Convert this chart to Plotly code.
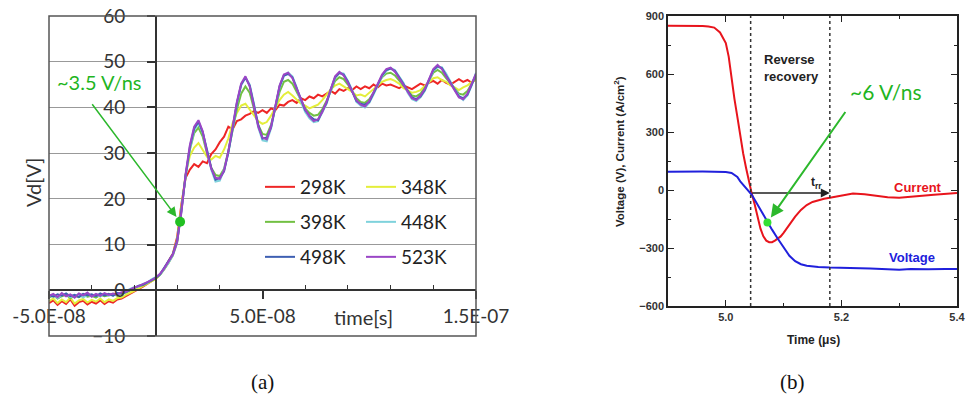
import plotly.graph_objects as go

# ---------------- Panel (a) data : Vd vs time (ns) ----------------
t_ns = [-50, -48, -46, -44, -42, -40, -38, -36, -34, -32,
        -30, -28, -26, -24, -22, -20, -18, -16, -14, -12,
        -10, -8, -6, -4, -2, 0, 2, 4, 6, 8,
        10, 12, 14, 16, 18, 20, 22, 24, 26, 28,
        30, 32, 34, 36, 38, 40, 42, 44, 46, 48,
        50, 52, 54, 56, 58, 60, 62, 64, 66, 68,
        70, 72, 74, 76, 78, 80, 82, 84, 86, 88,
        90, 92, 94, 96, 98, 100, 102, 104, 106, 108,
        110, 112, 114, 116, 118, 120, 122, 124, 126, 128,
        130, 132, 134, 136, 138, 140, 142, 144, 146, 148,
        150]

vd_298K = [-2.8, -2.2, -3.2, -2.4, -3.0, -2.0, -3.4, -2.6, -2.3, -3.1,
           -2.5, -2.9, -2.2, -3.0, -2.4, -2.7, -2.0, -1.8, -1.3, -0.8,
           -0.3, 0.3, 0.8, 1.4, 2.0, 2.6, 3.5, 4.8, 6.4, 8.0,
           11.6, 18.8, 24.6, 26.4, 27.6, 27.0, 28.2, 27.8, 29.8, 30.8,
           32.4, 33.6, 35.8, 35.2, 37.0, 37.4, 38.2, 38.6, 39.2, 38.8,
           39.4, 38.8, 39.8, 39.4, 40.6, 40.4, 41.2, 41.6, 41.0, 42.0,
           41.6, 42.4, 42.0, 42.8, 42.4, 43.0, 43.6, 43.0, 44.0, 43.6,
           44.2, 43.8, 44.6, 44.0, 44.6, 44.2, 45.0, 44.4, 45.2, 44.8,
           45.0, 44.6, 44.2, 44.8, 44.4, 44.0, 44.6, 45.2, 44.8, 45.4,
           45.8, 45.2, 46.0, 45.4, 45.0, 45.6, 46.2, 45.6, 46.0, 45.4,
           46.2]

vd_348K = [-2.4, -1.8, -2.8, -2.0, -2.6, -1.6, -2.9, -2.2, -1.9, -2.7,
           -2.1, -2.5, -1.8, -2.6, -2.0, -2.3, -1.7, -1.6, -1.0, -0.6,
           -0.1, 0.4, 0.9, 1.4, 2.0, 2.5, 3.4, 4.6, 6.0, 7.8,
           11.0, 18.2, 25.4, 29.4, 31.2, 32.2, 30.6, 29.2, 28.6, 29.4,
           29.0, 30.8, 33.2, 36.6, 38.8, 40.4, 40.8, 39.6, 38.2, 37.0,
           36.4, 36.8, 38.2, 39.8, 41.6, 42.8, 43.4, 42.6, 41.6, 40.8,
           40.4, 39.8, 40.2, 40.6, 41.6, 42.8, 44.0, 44.8, 45.2, 44.6,
           44.0, 43.4, 42.6, 42.8, 42.4, 43.2, 44.0, 45.0, 45.6, 46.0,
           46.2, 45.8, 45.2, 44.2, 43.8, 43.2, 43.4, 43.8, 44.6, 45.4,
           46.4, 46.6, 46.0, 45.6, 44.8, 44.4, 43.8, 44.4, 44.8, 45.6,
           46.0]

vd_398K = [-1.6, -1.1, -1.8, -1.3, -1.0, -1.7, -1.2, -1.5, -0.9, -1.4,
           -1.2, -1.6, -1.0, -1.3, -1.1, -0.8, -1.2, -0.7, -0.5, 0.0,
           0.4, 0.9, 1.1, 1.6, 2.1, 2.6, 3.4, 4.6, 6.1, 7.6,
           10.4, 17.6, 25.0, 30.8, 34.4, 35.6, 33.6, 30.0, 26.8, 25.2,
           25.0, 26.6, 30.4, 35.0, 39.6, 43.0, 44.6, 43.2, 39.8, 36.2,
           34.2, 34.0, 36.2, 40.0, 43.4, 45.6, 46.0, 45.2, 43.4, 41.4,
           39.8, 38.8, 38.2, 38.4, 39.6, 41.4, 43.8, 45.8, 46.6, 46.2,
           45.0, 43.4, 42.0, 41.2, 41.0, 41.8, 43.2, 45.0, 46.6, 47.4,
           47.6, 47.0, 46.0, 44.8, 43.6, 42.6, 42.4, 43.0, 44.2, 46.0,
           47.6, 48.2, 47.6, 46.4, 45.2, 44.0, 43.0, 42.8, 43.6, 45.2,
           46.8]

vd_448K = [-1.4, -1.0, -1.7, -1.1, -0.8, -1.5, -1.2, -0.9, -1.6, -1.0,
           -1.3, -0.9, -1.4, -0.8, -1.2, -0.9, -1.0, -0.6, -0.2, 0.3,
           0.7, 0.8, 1.4, 1.6, 2.4, 2.9, 3.4, 4.7, 6.0, 7.7,
           10.6, 17.2, 25.0, 31.0, 35.0, 36.6, 34.4, 30.6, 26.4, 23.8,
           24.0, 26.4, 30.0, 35.2, 40.8, 44.8, 46.6, 45.0, 40.8, 35.6,
           32.8, 32.6, 35.4, 40.0, 44.4, 46.8, 47.6, 46.8, 44.4, 41.2,
           39.0, 37.6, 36.8, 37.0, 38.8, 40.8, 43.8, 46.4, 47.6, 47.4,
           45.8, 43.8, 41.2, 40.4, 40.0, 41.0, 42.8, 45.0, 46.8, 48.0,
           48.6, 48.2, 46.8, 45.4, 43.2, 41.8, 41.4, 42.2, 43.6, 45.8,
           48.0, 48.8, 48.8, 47.4, 45.6, 44.0, 42.6, 41.6, 42.6, 44.8,
           47.6]

vd_498K = [-1.0, -1.4, -0.9, -1.2, -0.7, -1.3, -1.0, -1.5, -0.8, -1.1,
           -0.9, -1.3, -0.7, -1.1, -0.8, -1.2, -0.6, -0.7, -0.4, 0.1,
           0.5, 1.0, 1.2, 1.7, 2.3, 2.7, 3.5, 4.9, 6.3, 7.9,
           10.8, 17.4, 25.2, 31.4, 35.4, 36.9, 34.6, 30.4, 26.8, 24.2,
           24.6, 26.0, 30.2, 35.4, 41.0, 45.0, 46.5, 44.8, 40.4, 36.2,
           33.2, 33.4, 35.6, 40.2, 44.6, 47.0, 47.3, 46.6, 44.0, 41.8,
           39.4, 38.2, 37.4, 37.2, 39.2, 41.0, 44.0, 46.6, 47.5, 47.2,
           45.6, 43.6, 41.4, 40.8, 40.6, 41.2, 43.0, 45.0, 47.0, 48.2,
           48.5, 48.0, 46.6, 45.2, 43.6, 42.2, 41.8, 42.4, 43.8, 46.0,
           48.2, 49.0, 48.6, 47.0, 45.4, 43.8, 42.4, 42.0, 42.8, 45.0,
           47.2]

vd_523K = [-1.2, -0.8, -1.5, -0.6, -1.3, -0.9, -1.6, -0.7, -1.1, -0.5,
           -1.4, -0.8, -1.2, -0.6, -1.0, -0.7, -0.9, -0.4, -0.3, 0.2,
           0.6, 0.9, 1.3, 1.8, 2.2, 2.8, 3.6, 4.8, 6.2, 7.8,
           10.5, 17.0, 25.5, 31.8, 35.8, 37.2, 34.8, 30.2, 26.6, 24.6,
           24.4, 26.2, 30.4, 35.6, 41.2, 45.2, 46.8, 44.6, 40.2, 35.8,
           33.4, 33.0, 35.8, 40.6, 44.8, 47.2, 47.6, 46.4, 44.2, 41.6,
           39.6, 38.0, 37.0, 37.4, 39.0, 41.2, 44.2, 46.8, 47.8, 47.0,
           45.4, 43.4, 41.6, 40.6, 40.2, 41.4, 43.2, 45.2, 47.2, 48.4,
           48.7, 47.8, 46.4, 45.0, 43.4, 42.0, 41.6, 42.6, 44.0, 46.2,
           48.4, 49.3, 48.4, 46.8, 45.2, 43.6, 42.2, 41.8, 43.0, 45.2,
           47.4]

series_names = ["298K", "348K", "398K", "448K", "498K", "523K"]
series_colors = ["#ee2626", "#e4ee3a", "#72c043", "#7fd2dc", "#3e5fb2", "#9a46c6"]
series_values = [vd_298K, vd_348K, vd_398K, vd_448K, vd_498K, vd_523K]
series_legends = ["legend", "legend", "legend2", "legend2", "legend3", "legend3"]

slope_a_t = [11.4]
slope_a_v = [15.0]

x_a_tickvals = [-50, 50, 150]
x_a_ticktext = ["-5.0E-08", "5.0E-08", "1.5E-07"]
x_a_minor = [-30, -10, 10, 30, 70, 90, 110, 130]
y_a_tickvals = [-10, 0, 10, 20, 30, 40, 50, 60]

# ---------------- Panel (b) data ----------------
t_cur = [4.90, 4.92, 4.94, 4.96, 4.97, 4.98, 4.99, 5.00, 5.005, 5.01,
         5.015, 5.02, 5.025, 5.03, 5.035, 5.04, 5.045, 5.05, 5.055, 5.06,
         5.065, 5.07, 5.075, 5.08, 5.085, 5.09, 5.095, 5.10, 5.11, 5.12,
         5.13, 5.14, 5.15, 5.16, 5.17, 5.18, 5.19, 5.20, 5.22, 5.24,
         5.26, 5.28, 5.30, 5.32, 5.34, 5.36, 5.38, 5.40]
current = [850, 850, 849, 848, 846, 840, 815, 760, 690, 570,
           470, 378, 280, 190, 115, 45, -20, -75, -140, -200,
           -240, -262, -270, -270, -262, -252, -240, -222, -180, -138,
           -103, -78, -62, -52, -45, -40, -34, -28, -18, -22,
           -30, -38, -40, -36, -30, -24, -20, -16]

t_volt = [4.90, 4.92, 4.94, 4.96, 4.98, 5.00, 5.01, 5.02, 5.025, 5.03,
          5.035, 5.04, 5.045, 5.05, 5.06, 5.07, 5.08, 5.09, 5.10, 5.11,
          5.12, 5.13, 5.14, 5.15, 5.16, 5.18, 5.20, 5.22, 5.25, 5.28,
          5.30, 5.32, 5.35, 5.38, 5.40]
voltage = [95, 96, 95, 96, 95, 93, 88, 68, 45, 28,
           8, -8, -25, -50, -103, -153, -205, -252, -298, -340,
           -368, -384, -392, -396, -398, -401, -402, -404, -406, -410,
           -412, -408, -410, -408, -409]

slope_b_t = [5.072]
slope_b_v = [-168]
recovery_start = 5.043
recovery_end = 5.18
trr_level = -15

x_b_tickvals = [5.0, 5.2, 5.4]
x_b_ticktext = ["5.0", "5.2", "5.4"]
x_b_minor = [4.9, 5.1, 5.3]
y_b_tickvals = [-600, -300, 0, 300, 600, 900]
y_b_minor = [-450, -150, 150, 450, 750]

W, H = 966, 396
def px(x):
    return x / W
def py(y):
    return 1 - y / H

FA = "Lato"
FB = "Liberation Sans"
GREEN = "#2cb82c"

fig = go.Figure()
for name, vals, col, lg in zip(series_names, series_values, series_colors, series_legends):
    fig.add_trace(go.Scatter(x=t_ns, y=vals, mode="lines", name=name,
                             line=dict(color=col, width=2), legend=lg,
                             xaxis="x", yaxis="y"))
fig.add_trace(go.Scatter(x=slope_a_t, y=slope_a_v, mode="markers", showlegend=False,
                         marker=dict(color="#22c022", size=10), xaxis="x", yaxis="y"))

fig.add_trace(go.Scatter(x=t_cur, y=current, mode="lines", showlegend=False,
                         line=dict(color="#e8141c", width=2), xaxis="x2", yaxis="y2"))
fig.add_trace(go.Scatter(x=t_volt, y=voltage, mode="lines", showlegend=False,
                         line=dict(color="#2020dc", width=2), xaxis="x2", yaxis="y2"))
fig.add_trace(go.Scatter(x=slope_b_t, y=slope_b_v, mode="markers", showlegend=False,
                         marker=dict(color="#33e033", size=8), xaxis="x2", yaxis="y2"))

leg_common = dict(orientation="h", xanchor="left", yanchor="middle",
                  bgcolor="rgba(0,0,0,0)", font=dict(family=FA, size=19, color="#222"),
                  entrywidth=56, entrywidthmode="pixels", itemwidth=30)

fig.update_layout(
    template="none",
    width=W, height=H, margin=dict(l=0, r=0, t=0, b=0, autoexpand=False),
    paper_bgcolor="white", plot_bgcolor="white",
    legend=dict(x=px(260), y=py(187), **leg_common),
    legend2=dict(x=px(260), y=py(222), **leg_common),
    legend3=dict(x=px(260), y=py(257), **leg_common),
    xaxis=dict(domain=[px(49), px(476)], range=[-50, 150], anchor="free",
               position=py(290.3), showline=True, linecolor="#333", linewidth=1.5,
               ticks="outside", ticklen=8, tickwidth=1.5, tickcolor="#333",
               tickmode="array", tickvals=x_a_tickvals, ticktext=x_a_ticktext,
               tickfont=dict(family=FA, size=19, color="#333"), ticklabelstandoff=1,
               showgrid=False, zeroline=False, automargin=False,
               minor=dict(tickmode="array", tickvals=x_a_minor, ticks="inside",
                          ticklen=5, tickwidth=1, tickcolor="#333", showgrid=False)),
    yaxis=dict(domain=[py(336), py(16)], range=[-10, 60], anchor="free",
               position=px(155.75), showline=True, linecolor="#333", linewidth=1.5,
               ticks="outside", ticklen=8, tickwidth=1.5, tickcolor="#333",
               tickmode="array", tickvals=y_a_tickvals,
               tickfont=dict(family=FA, size=19, color="#333"), ticklabelstandoff=18,
               showgrid=True, gridcolor="#999", gridwidth=1, zeroline=False,
               automargin=False),
    xaxis2=dict(domain=[px(668), px(957)], range=[4.9, 5.4], anchor="y2",
                showline=True, mirror="ticks", linecolor="#222", linewidth=1.5,
                ticks="inside", ticklen=6, tickwidth=1, tickcolor="#222",
                tickmode="array", tickvals=x_b_tickvals, ticktext=x_b_ticktext,
                tickfont=dict(family=FB, size=11, color="#333", weight="bold"),
                ticklabelstandoff=0, showgrid=False, zeroline=False, automargin=False,
                minor=dict(tickmode="array", tickvals=x_b_minor, ticks="inside",
                           ticklen=3, tickcolor="#222", showgrid=False)),
    yaxis2=dict(domain=[py(306), py(16)], range=[-600, 900], anchor="x2",
                showline=True, mirror="ticks", linecolor="#222", linewidth=1.5,
                ticks="inside", ticklen=6, tickwidth=1, tickcolor="#222",
                tickmode="array", tickvals=y_b_tickvals,
                tickfont=dict(family=FB, size=11, color="#333", weight="bold"),
                ticklabelstandoff=0, showgrid=False, zeroline=False, automargin=False,
                minor=dict(tickmode="array", tickvals=y_b_minor, ticks="inside",
                           ticklen=3, tickcolor="#222", showgrid=False)),
)

shapes = [
    dict(type="rect", xref="x domain", yref="y domain", x0=0, x1=1, y0=0, y1=1,
         line=dict(color="#555", width=1.5), layer="above"),
    dict(type="rect", xref="paper", yref="paper", x0=px(255), x1=px(463),
         y0=py(275), y1=py(170), fillcolor="white", line=dict(width=0), layer="between"),
    dict(type="line", xref="x2", yref="y2 domain", x0=recovery_start, x1=recovery_start,
         y0=0, y1=1, line=dict(color="#333", width=1.5, dash="dot")),
    dict(type="line", xref="x2", yref="y2 domain", x0=recovery_end, x1=recovery_end,
         y0=0, y1=1, line=dict(color="#333", width=1.5, dash="dot")),
]
fig.update_layout(shapes=shapes)


def label(x, y, text, font, **kw):
    d = dict(x=px(x), y=py(y), xref="paper", yref="paper", text=text, showarrow=False,
             xanchor="center", yanchor="middle", font=font)
    d.update(kw)
    return d


ann = [
    # panel (a)
    dict(x=slope_a_t[0], y=slope_a_v[0], xref="x", yref="y", ax=-89, ay=-119,
         text="", showarrow=True, arrowhead=2, arrowsize=1.3, arrowwidth=1.5,
         arrowcolor=GREEN, standoff=6),
    label(99, 82, "~3.5 V/ns", dict(family=FA, size=20, color="#1fb51f")),
    label(33, 183, "Vd[V]", dict(family=FA, size=20, color="#333"), textangle=-90),
    label(363, 317, "time[s]", dict(family=FA, size=20, color="#333"), bgcolor="white"),
    label(262.5, 382, "(a)", dict(family="Liberation Serif", size=21, color="#111")),
    # panel (b)
    label(792, 382, "(b)", dict(family="Liberation Serif", size=21, color="#111")),
    dict(x=recovery_end, y=trr_level, xref="x2", yref="y2", ax=recovery_start, ay=trr_level,
         axref="x2", ayref="y2", text="", showarrow=True, arrowhead=2, arrowsize=1.2,
         arrowwidth=1.5, arrowcolor="#222"),
    label(816, 183, "<b>t<sub>rr</sub></b>", dict(family=FB, size=12, color="#222")),
    dict(x=slope_b_t[0], y=slope_b_v[0], xref="x2", yref="y2", ax=79, ay=-112,
         text="", showarrow=True, arrowhead=2, arrowsize=1.3, arrowwidth=2,
         arrowcolor=GREEN, standoff=6),
    label(886, 92, "~6 V/ns", dict(family=FA, size=21, color="#1fb51f")),
    label(762, 68, "<b>Reverse<br>recovery</b>", dict(family=FB, size=13, color="#222"),
          xanchor="left", align="left"),
    label(918, 187, "<b>Current</b>", dict(family=FB, size=13, color="#e8141c")),
    label(912, 257, "<b>Voltage</b>", dict(family=FB, size=13, color="#2020dc")),
    label(619, 152, "<b>Voltage (V), Current (A/cm<sup>2</sup>)</b>",
          dict(family=FB, size=11.5, color="#222"), textangle=-90),
    label(813, 340, "<b>Time (μs)</b>", dict(family=FB, size=12, color="#222")),
]
fig.update_layout(annotations=ann)

fig.write_html("out.html", config={"displayModeBar": False},
               post_script="document.body.style.margin='0';")
